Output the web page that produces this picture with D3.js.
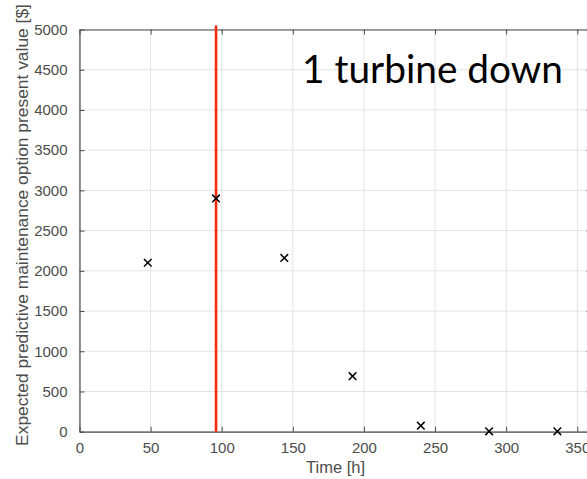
<!DOCTYPE html>
<html>
<head>
<meta charset="utf-8">
<script src="https://cdn.jsdelivr.net/npm/d3@7/dist/d3.min.js"></script>
<style>
  html, body { margin: 0; padding: 0; background: #fff; }
  svg { display: block; }
</style>
</head>
<body>
<svg id="chart" width="587" height="479"></svg>
<script>
// Inspection times [h] and expected option present value [$]
const timeHours = [48, 96, 144, 192, 240, 288, 336];
const optionValue = [2100, 2900, 2160, 690, 75, 5, 5];

const xTicks = [0, 50, 100, 150, 200, 250, 300, 350];
const yTicks = [0, 500, 1000, 1500, 2000, 2500, 3000, 3500, 4000, 4500, 5000];

// Moment the turbine goes down
const eventTime = [96];
const eventSpan = [0, 5050];

const annotation = ["1 turbine down"];
const xLabel = ["Time [h]"];
const yLabel = ["Expected predictive maintenance option present value [$]"];

const svg = d3.select("#chart");
const plotLeft = 79.5, plotTop = 29.5, plotRight = 591.5, plotBottom = 431.7;

const x = d3.scaleLinear().domain([0, 360]).range([plotLeft, plotRight]);
const y = d3.scaleLinear().domain([0, 5000]).range([plotBottom, plotTop]);

const axisCol = "#4a4a4a";
const gridCol = "#e3e3e3";
const textCol = "#4d4d4d";

// grid
const grid = svg.append("g");
grid.selectAll("line.gx").data(xTicks).join("line")
  .attr("x1", d => x(d)).attr("x2", d => x(d))
  .attr("y1", plotTop).attr("y2", plotBottom)
  .attr("stroke", gridCol).attr("stroke-width", 1);
grid.selectAll("line.gy").data(yTicks).join("line")
  .attr("x1", plotLeft).attr("x2", plotRight)
  .attr("y1", d => y(d)).attr("y2", d => y(d))
  .attr("stroke", gridCol).attr("stroke-width", 1);

// axes (ticks pointing inward, box on all sides)
const fontAxis = "'Liberation Sans', Arial, Helvetica, sans-serif";
const plain = d3.format("d");
function styleAxis(g) {
  g.select(".domain").attr("stroke", axisCol).attr("stroke-width", 1.2);
  g.selectAll(".tick line").attr("stroke", axisCol);
  g.selectAll(".tick text").attr("fill", textCol)
    .attr("font-family", fontAxis).attr("font-size", 15);
}

svg.append("g").attr("transform", `translate(0,${plotBottom})`)
  .call(d3.axisBottom(x).tickValues(xTicks).tickFormat(plain).tickSize(-5).tickPadding(11).tickSizeOuter(0))
  .call(styleAxis);
svg.append("g").attr("transform", `translate(0,${plotTop})`)
  .call(d3.axisTop(x).tickValues(xTicks).tickSize(-5).tickFormat("").tickSizeOuter(0))
  .call(styleAxis);
svg.append("g").attr("transform", `translate(${plotLeft},0)`)
  .call(d3.axisLeft(y).tickValues(yTicks).tickFormat(plain).tickSize(-5).tickPadding(12).tickSizeOuter(0))
  .call(styleAxis);
svg.append("g").attr("transform", `translate(${plotRight},0)`)
  .call(d3.axisRight(y).tickValues(yTicks).tickSize(-5).tickFormat("").tickSizeOuter(0))
  .call(styleAxis);

// axis labels
svg.append("text").text(xLabel[0])
  .attr("x", (plotLeft + plotRight) / 2).attr("y", 473)
  .attr("text-anchor", "middle").attr("fill", textCol)
  .attr("font-family", fontAxis).attr("font-size", 16.5);

svg.append("text").text(yLabel[0])
  .attr("transform", `translate(28,225) rotate(-90)`)
  .attr("text-anchor", "middle").attr("fill", textCol)
  .attr("font-family", fontAxis).attr("font-size", 17.4);

// event line
svg.selectAll("line.event").data(eventTime).join("line")
  .attr("x1", d => x(d)).attr("x2", d => x(d))
  .attr("y1", y(eventSpan[0])).attr("y2", y(eventSpan[1]))
  .attr("stroke", "#f8290f").attr("stroke-width", 2.6);

// cross markers
const s = 3.8;
svg.append("g").selectAll("path")
  .data(timeHours.map((t, i) => [t, optionValue[i]])).join("path")
  .attr("d", d => {
    const cx = x(d[0]), cy = y(d[1]);
    return `M${cx - s},${cy - s}L${cx + s},${cy + s}M${cx - s},${cy + s}L${cx + s},${cy - s}`;
  })
  .attr("stroke", "#000").attr("stroke-width", 1.5).attr("fill", "none");

// annotation
svg.append("text").text(annotation[0])
  .attr("x", 302).attr("y", 82.5)
  .attr("textLength", 261).attr("lengthAdjust", "spacingAndGlyphs")
  .attr("fill", "#000")
  .attr("font-family", "Lato, 'Open Sans', sans-serif").attr("font-size", 38);
</script>
</body>
</html>
